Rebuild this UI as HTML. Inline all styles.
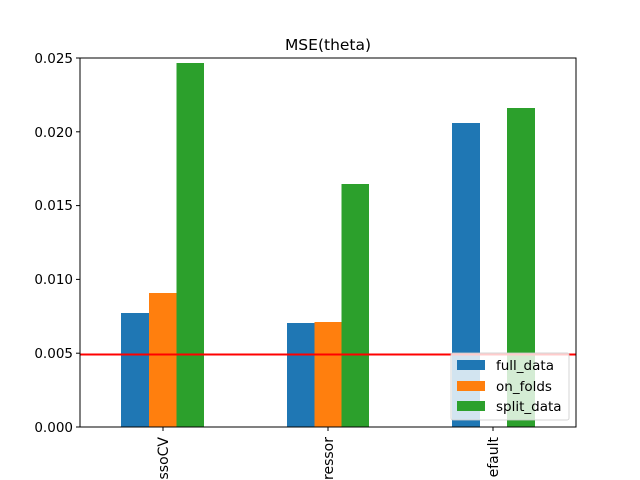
<!DOCTYPE html>
<html><head><style>html,body{margin:0;background:#fff;width:640px;height:480px;overflow:hidden}svg{display:block;overflow:hidden}</style></head>
<body>
<svg width="640" height="480" xmlns="http://www.w3.org/2000/svg" font-family="DejaVu Sans, sans-serif">
<rect width="640" height="480" fill="#fff"/>
<g>
<rect x="121" y="313" width="28" height="114" fill="#1f77b4"/>
<rect x="149" y="293" width="27.5" height="134" fill="#ff7f0e"/>
<rect x="176.5" y="63" width="27.5" height="364" fill="#2ca02c"/>
<rect x="287" y="323" width="27.5" height="104" fill="#1f77b4"/>
<rect x="314.5" y="322" width="27" height="105" fill="#ff7f0e"/>
<rect x="341.5" y="184" width="27.5" height="243" fill="#2ca02c"/>
<rect x="452" y="123" width="28" height="304" fill="#1f77b4"/>
<rect x="507" y="108" width="28" height="319" fill="#2ca02c"/>
</g>
<line x1="80" y1="354.5" x2="576" y2="354.5" stroke="#ff0000" stroke-width="2"/>
<rect x="80" y="58" width="496" height="369" fill="none" stroke="#000" stroke-width="1"/>
<g stroke="#000">
<line x1="76" y1="427" x2="80" y2="427"/><line x1="76" y1="353.2" x2="80" y2="353.2"/>
<line x1="76" y1="279.4" x2="80" y2="279.4"/><line x1="76" y1="205.6" x2="80" y2="205.6"/>
<line x1="76" y1="131.8" x2="80" y2="131.8"/><line x1="76" y1="58" x2="80" y2="58"/>
<line x1="163" y1="427" x2="163" y2="431"/><line x1="328" y1="427" x2="328" y2="431"/><line x1="493" y1="427" x2="493" y2="431"/>
</g>
<g font-size="13.5" text-anchor="end" fill="#000">
<text x="73" y="432">0.000</text><text x="73" y="358">0.005</text>
<text x="73" y="284">0.010</text><text x="73" y="210">0.015</text>
<text x="73" y="137">0.020</text><text x="73" y="63">0.025</text>
</g>
<g font-size="14" text-anchor="end" fill="#000">
<text transform="translate(168,437) rotate(-90)">ssoCV</text>
<text transform="translate(333,437) rotate(-90)">ressor</text>
<text transform="translate(498,437) rotate(-90)">efault</text>
</g>
<text x="328" y="50" font-size="15.5" text-anchor="middle">MSE(theta)</text>
<rect x="451" y="353" width="118" height="67" rx="2" fill="#fff" fill-opacity="0.8" stroke="#ccc" stroke-opacity="0.8"/>
<rect x="457" y="360" width="28" height="10" fill="#1f77b4"/>
<rect x="457" y="381" width="28" height="10" fill="#ff7f0e"/>
<rect x="457" y="401" width="28" height="10" fill="#2ca02c"/>
<g font-size="13.5" fill="#000">
<text x="496" y="370">full_data</text>
<text x="496" y="391">on_folds</text>
<text x="496" y="411">split_data</text>
</g>
</svg>
</body></html>
